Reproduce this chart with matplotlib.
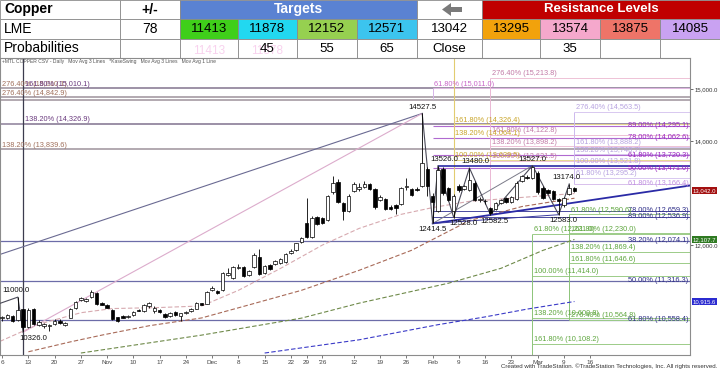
import numpy as np
import matplotlib
matplotlib.use("Agg")
import matplotlib.pyplot as plt
from matplotlib.patches import Rectangle, FancyArrow

plt.rcParams['font.family'] = ['Liberation Sans', 'DejaVu Sans']

# ---------------- table data ----------------
row_titles = ["Copper", "LME", "Probabilities"]
change_value = "78"
target_values = [11413, 11878, 12152, 12571]
close_value = 13042
resistance_values = [13295, 13574, 13875, 14085]
target_probs = ["", "45", "55", "65"]
resistance_probs = ["", "35", "", ""]

# ---------------- price data (trading days, Oct 6 -> Mar 11) ----------------
opens = [10590, 10600, 10640, 10560, 10770, 10420, 10770, 10470, 10440, 10450,
         10490, 10550, 10470, 10600, 10800, 10950, 10920, 11000, 11080, 10880,
         10840, 10760, 10610, 10630, 10620, 10650, 10760, 10730, 10820, 10740,
         10760, 10680, 10630, 10720, 10640, 10690, 10730, 10780, 10880, 10870,
         11130, 11120, 11130, 11420, 11360, 11560, 11570, 11420, 11570, 11770,
         11460, 11610, 11630, 11660, 11680, 11840, 11900, 12050, 12420, 12150,
         12530, 12520, 12490, 13010, 13220, 12800, 12660, 13030, 13070, 13110,
         13180, 13070, 12870, 12890, 12740, 12760, 12780, 13120, 13070, 13080,
         13140, 13470, 12950, 12660, 13470, 13090, 12660, 13140, 13080, 13050,
         13200, 12870, 12840, 12720, 12700, 12810, 12900, 12820, 12890, 13230,
         13310, 13280, 13390, 13100, 13060, 13030, 12880, 12760, 12990, 13090]
highs = [10640, 10680, 10650, 11000, 10780, 10790, 10790, 10560, 10500, 10480,
         10570, 10570, 10520, 10800, 10920, 11010, 10990, 11130, 11090, 10900,
         10860, 10770, 10620, 10650, 10660, 10730, 10780, 10860, 10900, 10820,
         10780, 10700, 10710, 10730, 10700, 10730, 10790, 10900, 10890, 11110,
         11210, 11130, 11480, 11550, 11600, 11640, 11590, 11520, 11850, 11920,
         11610, 11630, 11720, 11760, 11850, 11920, 12040, 12150, 12910, 12550,
         12560, 12540, 12970, 13330, 13260, 12830, 12980, 13220, 13200, 13230,
         13200, 13090, 12960, 12910, 12760, 12780, 13110, 13280, 13100, 13110,
         14527.5, 13500, 13000, 13526, 13500, 13120, 12980, 13170, 13160, 13480,
         13230, 12930, 12880, 12740, 12830, 12890, 12920, 12950, 13230, 13350,
         13340, 13527, 13420, 13130, 13080, 13060, 12900, 12930, 13174, 13120]
lows = [10540, 10580, 10530, 10540, 10326, 10400, 10460, 10440, 10400, 10340,
        10470, 10490, 10440, 10590, 10780, 10930, 10900, 10990, 10850, 10840,
        10790, 10560, 10530, 10590, 10600, 10640, 10730, 10720, 10800, 10700,
        10700, 10600, 10610, 10640, 10540, 10680, 10720, 10770, 10840, 10860,
        11120, 11060, 11110, 11400, 11340, 11540, 11390, 11400, 11560, 11430,
        11440, 11520, 11610, 11640, 11660, 11830, 11890, 12030, 12130, 12130,
        12380, 12400, 12470, 12990, 12800, 12480, 12640, 13010, 13040, 13090,
        13050, 12700, 12850, 12680, 12680, 12590, 12760, 13060, 12940, 13030,
        13120, 12950, 12414.5, 12640, 12960, 12840, 12528, 13020, 13060, 13030,
        12840, 12830, 12790, 12582.5, 12680, 12790, 12800, 12800, 12870, 13210,
        13270, 13260, 12990, 12880, 12980, 12860, 12583, 12740, 12970, 13020]
closes = [10610, 10660, 10550, 10760, 10420, 10750, 10480, 10530, 10480, 10460,
          10550, 10500, 10510, 10780, 10900, 10990, 10970, 11100, 10860, 10850,
          10800, 10580, 10550, 10600, 10630, 10710, 10740, 10840, 10880, 10800,
          10720, 10620, 10690, 10660, 10690, 10710, 10770, 10880, 10850, 11090,
          11170, 11070, 11460, 11460, 11570, 11580, 11410, 11500, 11800, 11450,
          11590, 11540, 11700, 11740, 11820, 11890, 12030, 12130, 12150, 12510,
          12400, 12420, 12950, 13200, 12820, 12660, 12950, 13180, 13120, 13170,
          13070, 12740, 12930, 12700, 12700, 12720, 13090, 13140, 12960, 13050,
          13580, 13140, 12820, 13450, 13000, 12860, 12950, 13050, 13130, 13240,
          12860, 12880, 12850, 12610, 12810, 12870, 12820, 12930, 13200, 13320,
          13290, 13490, 13010, 12910, 13000, 12880, 12850, 12910, 13100, 13042]

# date axis ticks (trading-day index -> label)
tick_days = [0, 5, 10, 15, 20, 25, 30, 35, 40, 45, 50, 55, 58, 61, 67, 72, 77,
             82, 87, 92, 97, 102, 107, 112]
tick_labels = ["6", "13", "20", "27", "Nov", "10", "17", "24", "Dec", "8", "15",
               "22", "29", "'26", "12", "19", "26", "Feb", "9", "16", "23",
               "Mar", "9", "16"]

# moving averages (day index, value)
ma_short_x = [-0.4, 7, 15, 21, 30, 38, 45, 53, 61, 68, 76, 82, 89, 97, 109]
ma_short_y = [10150, 10480, 10700, 10780, 10800, 10830, 11130, 11550, 12000,
              12320, 12590, 12720, 12840, 12900, 12990]
ma_mid_x = [5, 13, 19, 28, 38, 47, 57, 68, 78, 89, 99, 109]
ma_mid_y = [9950, 10140, 10270, 10450, 10600, 10850, 11130, 11515, 11900,
            12470, 12740, 12900]
ma_long_x = [15, 38, 57, 68, 85, 95, 103, 109]
ma_long_y = [9926, 10270, 10596, 10884, 11267, 11553, 11898, 12107.7]
ma_200_x = [50, 68, 83, 92, 100, 109]
ma_200_y = [9926, 10180, 10470, 10620, 10770, 10915.6]

# swing pivots
zig_x = [-0.4, 3, 4]
zig_y = [10880, 11000, 10326]
zig2_x = [80, 82, 83, 86, 89, 93, 101, 106, 108]
zig2_y = [14527.5, 12414.5, 13526, 12528, 13480, 12582.5, 13527, 12583, 13174]
pivot_x = [3, 4, 80, 82, 83, 86, 89, 93, 101, 106, 108]
pivot_y = [11000.0, 10326.0, 14527.5, 12414.5, 13526.0, 12528.0, 13480.0,
           12582.5, 13527.0, 12583.0, 13174.0]
pivot_high = [True, False, True, False, True, False, True, False, True, False, True]

# fibonacci groups: anchor day, levels, percent labels
fib_gray_a = ([15010.1, 14842.9, 13839.6], ["276.40%", "276.40%", "138.20%"])
fib_gray_b = ([15010.1, 14326.9], ["161.80%", "138.20%"])
fib_gold = (86, [14326.4, 14064.1, 13639.5], ["161.80%", "138.20%", "100.00%"])
fib_pink = (93, [15213.8, 14122.8, 13898.2, 13621.5], ["276.40%", "161.80%", "138.20%", "100.00%"])
fib_magenta = (82, [15011.0], ["61.80%"])
fib_lav = (109, [14563.5, 13888.2, 13748.7, 13521.8, 13295.2],
           ["276.40%", "161.80%", "138.20%", "100.00%", "61.80%"])
fib_purple = (82, [14295.1, 14062.6, 13720.3, 13471.0], ["89.00%", "78.00%", "61.80%", "50.00%"])
fib_lav_r = (109, [13166.4], ["61.80%"])
fib_navy = (82, [12659.3, 12536.9], ["78.00%", "89.00%"])
fib_navy_full = ([12074.1, 11316.3, 10558.4], ["38.20%", "50.00%", "61.80%"])
fib_green_a = (101, [12221.0, 11414.0, 10600.8, 10108.2], ["61.80%", "100.00%", "138.20%", "161.80%"])
fib_green_b = (108, [12590.6, 12230.0, 11869.4, 11646.6, 10564.8],
               ["61.80%", "161.80%", "138.20%", "161.80%", "276.40%"])

X0, X1 = -0.4, 131.0
Y0, Y1 = 9888, 15593

fig = plt.figure(figsize=(7.2, 3.7), dpi=100)

# ================= table =================
tax = fig.add_axes([0, 1 - 58 / 370, 1, 58 / 370])
tax.set_xlim(0, 720)
tax.set_ylim(58, 0)
tax.axis('off')
cols = [0, 120, 180, 238, 297, 357, 417, 482, 540, 600, 660, 720]
rows = [0, 19, 39, 58]
target_colors = ['#3fcf1a', '#22d8f0', '#96d050', '#3cc4ee']
resist_colors = ['#f2a20c', '#f5a8cc', '#ee7468', '#c9a2f2']
edge = '#8a8a8a'


def cell(x0, x1, y0, y1, fc='white'):
    tax.add_patch(Rectangle((x0, y0), x1 - x0, y1 - y0, fc=fc, ec=edge, lw=0.6))


# header row
cell(cols[0], cols[1], rows[0], rows[1])
cell(cols[1], cols[2], rows[0], rows[1])
cell(cols[2], cols[6], rows[0], rows[1], '#5a82d2')
cell(cols[6], cols[7], rows[0], rows[1])
cell(cols[7], cols[11], rows[0], rows[1], '#c00000')
tax.text(4, 9.5, row_titles[0], fontsize=10, fontweight='bold', va='center')
tax.text(150, 9.5, "+/-", fontsize=10, fontweight='bold', va='center', ha='center')
tax.text((cols[2] + cols[6]) / 2, 9, "Targets", fontsize=10, fontweight='bold',
         color='white', va='center', ha='center')
tax.text((cols[7] + cols[11]) / 2, 9, "Resistance Levels", fontsize=9.5,
         fontweight='bold', color='white', va='center', ha='center')
tax.add_patch(FancyArrow(462, 9.5, -20, 0, width=5, head_width=13, head_length=9,
                         length_includes_head=True, color='#7a7a7a', lw=0))

# value row
cell(cols[0], cols[1], rows[1], rows[2])
cell(cols[1], cols[2], rows[1], rows[2])
tax.text(4, 29, row_titles[1], fontsize=10, va='center')
tax.text(150, 29, change_value, fontsize=10, va='center', ha='center')
for k, v in enumerate(target_values):
    cell(cols[2 + k], cols[3 + k], rows[1], rows[2], target_colors[k])
    tax.text((cols[2 + k] + cols[3 + k]) / 2, 29, str(v), fontsize=9.5, va='center', ha='center')
cell(cols[6], cols[7], rows[1], rows[2])
tax.text((cols[6] + cols[7]) / 2, 29, str(close_value), fontsize=9.5, va='center', ha='center')
for k, v in enumerate(resistance_values):
    cell(cols[7 + k], cols[8 + k], rows[1], rows[2], resist_colors[k])
    tax.text((cols[7 + k] + cols[8 + k]) / 2, 29, str(v), fontsize=9.5, va='center', ha='center')

# probability row
cell(cols[0], cols[1], rows[2], rows[3])
cell(cols[1], cols[2], rows[2], rows[3])
tax.text(4, 48.5, row_titles[2], fontsize=10, va='center')
for k, p in enumerate(target_probs):
    cell(cols[2 + k], cols[3 + k], rows[2], rows[3])
    if k < 2:
        # faint ghost copy of the target value seen in the source image
        tax.text((cols[2 + k] + cols[3 + k]) / 2, 51, str(target_values[k]), fontsize=8.5,
                 va='center', ha='center', color='#f8d2ee')
    tax.text((cols[2 + k] + cols[3 + k]) / 2, 48.5, p, fontsize=9.5, va='center', ha='center')
cell(cols[6], cols[7], rows[2], rows[3])
tax.text((cols[6] + cols[7]) / 2, 48.5, "Close", fontsize=9.5, va='center', ha='center')
for k, p in enumerate(resistance_probs):
    cell(cols[7 + k], cols[8 + k], rows[2], rows[3])
    tax.text((cols[7 + k] + cols[8 + k]) / 2, 48.5, p, fontsize=9.5, va='center', ha='center')

# ================= price chart =================
ax = fig.add_axes([0, 15 / 370, 690 / 720, (355 - 58) / 370])
ax.set_xlim(X0, X1)
ax.set_ylim(Y0, Y1)
for s in ax.spines.values():
    s.set_color('#8c8c8c')
    s.set_linewidth(0.8)

FS = 5.3


def fib_lines(anchor, levels, pcts, line_c, text_c, label_at='left', end=X1, lw=0.7):
    for lv, pc in zip(levels, pcts):
        ax.hlines(lv, anchor, end, color=line_c, lw=lw, zorder=1)
        txt = f"{pc} ({lv:,.1f})"
        if label_at == 'left':
            ax.text(anchor + 0.3, lv + 8, txt, fontsize=FS, color=text_c, va='bottom', zorder=4)
        else:
            ax.text(X1 - 0.3, lv - 20, txt, fontsize=FS, color=text_c, va='baseline',
                    ha='right', zorder=4)


# full width gray levels
fib_lines(X0, fib_gray_a[0], fib_gray_a[1], '#ada2aa', '#a0705c', lw=1.3)
fib_lines(4, fib_gray_b[0], fib_gray_b[1], '#9d92a8', '#6a3a7e', lw=1.3)
ax.hlines(14780, X0, X1, color='#ada2aa', lw=1.3, zorder=1)
ax.hlines(fib_gray_b[0][1], X0, X1, color='#9d92a8', lw=1.3, zorder=1)

fib_lines(*fib_magenta, '#e2b8e2', '#c866c8')
fib_lines(*fib_pink, '#eec2d6', '#c27aa6')
fib_lines(*fib_gold, '#e8d890', '#c9a52a')
fib_lines(*fib_lav, '#d8c8f0', '#b7a2e0')
fib_lines(*fib_purple, '#b06ad0', '#9a24c0', label_at='right', lw=0.8)
fib_lines(*fib_lav_r, '#d8c0ec', '#c08ee0', label_at='right')
fib_lines(*fib_navy, '#4a4aa0', '#2e2e88', label_at='right')
fib_lines(X0, fib_navy_full[0], fib_navy_full[1], '#6c6ca8', '#2e2e88', label_at='right', lw=0.9)
fib_lines(*fib_green_a, '#9ccc88', '#5ea63e')
fib_lines(*fib_green_b, '#9ccc88', '#5ea63e')

# anchor verticals
ax.vlines(4, Y0, Y1, color='#3c3c4e', lw=0.9, zorder=2)
ax.vlines(fib_magenta[0], fib_gray_a[0][0] - 200, fib_magenta[1][0], color='#d6b4e8', lw=0.7)
ax.vlines(fib_gold[0], zig2_y[3], Y1, color='#e2cc70', lw=0.8)
ax.vlines(fib_pink[0], zig2_y[5], fib_pink[1][0], color='#eab8d4', lw=0.7)
ax.vlines(fib_lav[0], fib_lav_r[1][0], fib_lav[1][0], color='#cdb8ee', lw=0.7)
ax.vlines(fib_green_a[0], Y0, fib_green_a[1][0], color='#8cc478', lw=0.7)
ax.vlines(fib_green_b[0], fib_green_b[1][-1], fib_green_b[1][0], color='#8cc478', lw=0.7)

# moving averages
ax.plot(ma_200_x, ma_200_y, color='#3b3bc8', lw=0.8, ls=(0, (4, 2)), zorder=2)
ax.plot(ma_long_x, ma_long_y, color='#6f8a4a', lw=0.8, ls=(0, (4, 2)), zorder=2)
ax.plot(ma_mid_x, ma_mid_y, color='#a86a58', lw=0.8, ls=(0, (4, 2)), zorder=2)
ax.plot(ma_short_x, ma_short_y, color='#d7aab0', lw=0.8, ls=(0, (4, 2)), zorder=2)

# trend lines
ax.plot([X0, zig2_x[0]], [11820, zig2_y[0]], color='#6a6a92', lw=0.8, zorder=2)
ax.plot([zig_x[-1], zig2_x[0]], [zig_y[-1], zig2_y[0]], color='#dcaccc', lw=0.8, zorder=2)
ax.plot([zig2_x[1], zig2_x[6]], [zig2_y[1], zig2_y[6]], color='#7a7a88', lw=0.7, zorder=2)
ax.plot([zig2_x[1], X1], [zig2_y[1], 13143], color='#2a2aa6', lw=1.3, zorder=2)
ax.plot([zig2_x[1], zig2_x[7]], [zig2_y[1], zig2_y[7]], color='#3a3aa0', lw=0.7, zorder=2)
ax.hlines(zig2_y[2], zig2_x[2], X1, color='#2a2aa6', lw=1.2, zorder=2)

# zigzag
ax.plot(zig_x, zig_y, color='#4a4a58', lw=0.8, zorder=3)
ax.plot(zig2_x, zig2_y, color='#4a4a58', lw=0.8, zorder=3)

# candles
days = np.arange(len(closes))
o = np.array(opens, float)
c = np.array(closes, float)
ax.vlines(days, lows, highs, color='black', lw=0.6, zorder=4)
body_lo = np.minimum(o, c)
body_h = np.maximum(np.abs(c - o), 14)
face = np.where(c >= o, 'white', 'black')
ax.bar(days, body_h, bottom=body_lo, width=0.66, color=face, edgecolor='black',
       linewidth=0.5, zorder=5)

# pivot labels
pivot_dx = [-2, 10, 0, 0, 6, 10, 6, 4, 0, 5, -3]
for px, py, hi, dx in zip(pivot_x, pivot_y, pivot_high, pivot_dx):
    ax.annotate(f"{py:.1f}", (px, py), xytext=(dx * 0.72, 2 if hi else -2),
                textcoords='offset points', ha='center', va='bottom' if hi else 'top',
                fontsize=5.6, color='#111111', zorder=6)

# axes ticks
ax.set_xticks(tick_days)
ax.set_xticklabels(tick_labels)
ax.tick_params(axis='x', labelsize=4.6, colors='#444444', length=2, width=0.5, pad=1.5)
ax.yaxis.tick_right()
yt = [15000, 14000, 12000]
ax.set_yticks(yt)
ax.set_yticklabels([f"{v:,.1f}" for v in yt])
ax.tick_params(axis='y', labelsize=4.3, colors='#333333', length=2, width=0.5, pad=1)

yx = ax.get_yaxis_transform()
ax.text(1.004, closes[-1], f"{closes[-1]:,.1f}", transform=yx, fontsize=4.3, color='white',
        va='center', ha='left', clip_on=False, zorder=7,
        bbox=dict(fc='#a31010', ec='none', pad=0.8))
ax.text(1.004, ma_long_y[-1], f"{ma_long_y[-1]:,.1f}", transform=yx, fontsize=4.3,
        color='white', va='center', ha='left', clip_on=False, zorder=7,
        bbox=dict(fc='#2f7a22', ec='none', pad=0.8))
ax.text(1.004, ma_200_y[-1], f"{ma_200_y[-1]:,.1f}", transform=yx, fontsize=4.3,
        color='white', va='center', ha='left', clip_on=False, zorder=7,
        bbox=dict(fc='#2b2bd0', ec='none', pad=0.8))

ax.text(0.003, 0.995, "+MTL COPPER CSV - Daily   Mov Avg 3 Lines   *KaseSwing   Mov Avg 3 Lines   Mov Avg 1 Line",
        transform=ax.transAxes, fontsize=3.6, color='#555555', va='top', ha='left')
fig.text(0.997, 1 - 366 / 370, "Created with TradeStation. \u00a9TradeStation Technologies, Inc. All rights reserved.",
         fontsize=4.4, color='#333333', ha='right', va='center')

fig.savefig("out.png", dpi=100)
